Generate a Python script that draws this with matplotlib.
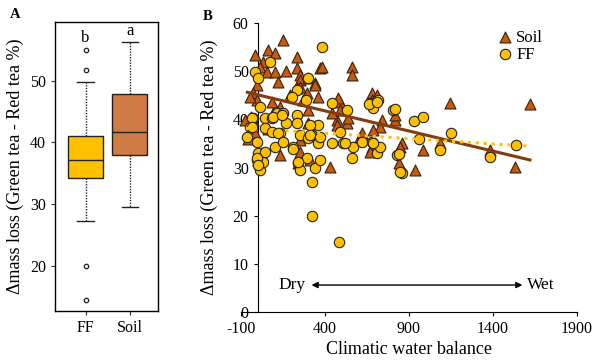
"""Tea bag mass loss: box plot by layer (A) and scatter vs climatic water balance (B)."""

import matplotlib

matplotlib.use("Agg")
import matplotlib.pyplot as plt
import numpy as np

plt.rcParams["font.family"] = ["Liberation Serif", "DejaVu Serif"]
plt.rcParams["axes.unicode_minus"] = False

# ---- panel A: box plot summary ----
box_labels = ["FF", "Soil"]
box_q1 = [34.2, 37.9]
box_med = [37.2, 41.7]
box_q3 = [41.0, 47.8]
box_whislo = [27.2, 29.5]
box_whishi = [49.8, 56.2]
box_fliers = [[54.9, 51.8, 20.0, 14.4], []]
box_letters = ["b", "a"]
box_letter_y = [55.6, 56.8]

# ---- panel B: scatter data (climatic water balance, delta mass loss) ----
soil_x = [150, -17, 61, 102, 31, 13, 55, 102, 120, -5, -29, -5, -46, -29, 84,
          233, 233, 251, 251, 233, 299, 340, 358, 293, 370, 561, 561, 430, 680,
          709, 680, 739, 727, 489, 489, 471, 471, 531, 269, 299, 299, 251, 251,
          239, 311, 132, 90, 1, -17, 132, 537, 608, 680, 1144, 1620, 858, 983,
          840, 936, 1531, 817, 817, 1085, 1382, 442, 620, 686, 668, 846, 382,
          477, 170, 190, 60, -40, -60, 20, -76, 251, 340]
soil_y = [56.4, 53.3, 54.4, 53.7, 51.9, 50.9, 49.8, 49.8, 47.7, 47.1, 45.4, 44.0,
          44.6, 39.8, 43.6, 52.9, 50.6, 49.2, 48.1, 46.5, 48.5, 47.5, 44.6, 45.4,
          50.6, 50.9, 49.2, 30.1, 45.4, 45.0, 44.0, 39.8, 38.4, 43.6, 41.9, 39.8,
          38.8, 39.2, 44.0, 41.9, 39.2, 35.7, 33.2, 30.9, 31.5, 42.5, 41.3, 31.5,
          37.1, 32.6, 40.2, 36.3, 34.2, 43.4, 43.2, 35.1, 33.6, 30.9, 29.5, 30.1,
          39.8, 41.0, 35.1, 33.6, 41.3, 37.1, 37.8, 33.2, 34.2, 50.9, 44.4, 50.0,
          45.0, 38.0, 40.5, 36.0, 33.0, 39.8, 46.7, 47.1]

ff_x = [382, 73, -17, 1, 299, 233, 204, 13, 287, 442, 531, -29, -46, -64, 43,
        84, 114, 150, 43, 84, 132, 102, 168, 233, 233, 251, 209, 323, 299, 358,
        358, -5, 1, -5, 13, 31, 43, 239, 251, 293, 340, 370, 323, 442, 507, 567,
        561, 620, 668, 686, 715, 680, 709, 727, 805, 829, 858, 817, 930, 983,
        1150, 960, 1085, 1382, 1537, 840, 323, 483, -35, 90, 144, 311, -35, 120,
        150, 209, 311, 370, -5, 1, 239, 662, 709, 489, 519, 686, 846]
ff_y = [55.0, 51.9, 49.8, 48.5, 48.5, 46.1, 44.6, 42.5, 44.0, 43.4, 41.9, 40.2,
        38.4, 36.3, 40.2, 40.2, 41.3, 41.3, 38.2, 37.3, 37.1, 34.2, 39.2, 40.9,
        39.2, 36.7, 34.2, 36.7, 36.1, 38.8, 35.1, 35.3, 33.0, 31.5, 29.5, 31.1,
        33.2, 30.9, 29.5, 31.9, 29.9, 31.5, 27.0, 35.1, 35.1, 34.2, 31.9, 35.3,
        43.4, 42.3, 44.0, 35.3, 33.0, 34.2, 41.9, 32.6, 28.8, 42.1, 39.6, 40.5,
        37.1, 35.9, 33.6, 32.2, 34.6, 32.8, 19.9, 14.5, 40.2, 40.5, 40.9, 38.8,
        38.4, 37.1, 35.3, 33.8, 36.7, 36.3, 31.9, 30.5, 31.1, 43.2, 43.6, 37.3,
        35.1, 35.1, 29.0]

# linear fits: (intercept, slope), x range
soil_fit = (45.1, -0.00835)
ff_fit = (38.0, -0.00221)
fit_xrange = [-71, 1629]

# ---- colours ----
ff_color = "#FFC000"
soil_box_color = "#D07B45"
soil_tri_color = "#C55A11"
soil_line_color = "#843C0C"

fig = plt.figure(figsize=(5.95, 3.63), dpi=100)

# ================= panel A =================
axA = fig.add_axes([0.0924, 0.1433, 0.173, 0.796])
stats = []
for i, lab in enumerate(box_labels):
    stats.append(dict(label=lab, q1=box_q1[i], med=box_med[i], q3=box_q3[i],
                      whislo=box_whislo[i], whishi=box_whishi[i],
                      fliers=box_fliers[i]))
bp = axA.bxp(stats, positions=[1, 2], widths=0.79, patch_artist=True,
             showfliers=True, capwidths=0.38,
             boxprops=dict(edgecolor="#222222", linewidth=1.0),
             medianprops=dict(color="#222222", linewidth=1.0),
             whiskerprops=dict(color="#222222", linewidth=1.0, linestyle=(0, (1, 1))),
             capprops=dict(color="#222222", linewidth=1.0),
             flierprops=dict(marker="o", markersize=3.2, markerfacecolor="white",
                             markeredgecolor="#222222", markeredgewidth=0.9))
for patch, c in zip(bp["boxes"], [ff_color, soil_box_color]):
    patch.set_facecolor(c)
for i, letter in enumerate(box_letters):
    axA.text(i + 1, box_letter_y[i], letter, ha="center", va="bottom", fontsize=12)

axA.set_xlim(0.31, 2.63)
axA.set_ylim(12.7, 59.5)
axA.set_yticks([20, 30, 40, 50])
axA.tick_params(axis="both", labelsize=11.5, length=3, width=0.8, color="#333333")
for sp in axA.spines.values():
    sp.set_linewidth(1.0)
axA.set_ylabel("Δmass loss (Green tea - Red tea %)", fontsize=13)
axA.yaxis.set_label_coords(-0.30, 0.5)
fig.text(15 / 595, 1 - 15 / 363, "A", fontsize=10.5, fontweight="bold",
         ha="center", va="center")

# ================= panel B =================
axB = fig.add_axes([0.405, 0.1405, 0.5647, 0.796])
axB.scatter(soil_x, soil_y, marker="^", s=62, color=soil_tri_color,
            edgecolors="#3a200f", linewidths=0.8, zorder=3, label="Soil",
            clip_on=False)
axB.scatter(ff_x, ff_y, marker="o", s=56, color=ff_color,
            edgecolors="#222222", linewidths=0.8, zorder=4, label="FF",
            clip_on=False)

fx = np.array(fit_xrange, dtype=float)
axB.plot(fx, soil_fit[0] + soil_fit[1] * fx, color=soil_line_color, lw=2.2,
         zorder=5, solid_capstyle="butt")
axB.plot(fx, ff_fit[0] + ff_fit[1] * fx, color=ff_color, lw=2.2,
         linestyle=(0, (1, 1.6)), zorder=5)

axB.annotate("", xy=(320, 5.6), xytext=(1575, 5.6),
             arrowprops=dict(arrowstyle="<|-|>", color="black", lw=1.0,
                             mutation_scale=9, shrinkA=0, shrinkB=0))
axB.text(287, 5.6, "Dry", ha="right", va="center", fontsize=12.5)
axB.text(1602, 5.6, "Wet", ha="left", va="center", fontsize=12.5)

axB.set_xlim(-100, 1900)
axB.set_ylim(0, 60)
axB.set_xticks([-100, 400, 900, 1400, 1900])
axB.set_yticks([0, 10, 20, 30, 40, 50, 60])
axB.spines["left"].set_position(("data", 0))
axB.spines["top"].set_visible(False)
axB.spines["right"].set_visible(False)
axB.tick_params(axis="both", labelsize=11.5, length=3, width=0.8)
axB.set_xlabel("Climatic water balance", fontsize=13, labelpad=3)
axB.set_ylabel("Δmass loss (Green tea - Red tea %)", fontsize=13)
axB.yaxis.set_label_coords(-0.068, 0.5)
axB.legend(loc="upper left", bbox_to_anchor=(0.735, 1.0), frameon=False,
           fontsize=12, handletextpad=0.1, borderaxespad=0, labelspacing=0.05,
           handlelength=1.2)
fig.text(208 / 595, 1 - 17 / 363, "B", fontsize=10.5, fontweight="bold",
         ha="center", va="center")

fig.savefig("out.png", dpi=100)
